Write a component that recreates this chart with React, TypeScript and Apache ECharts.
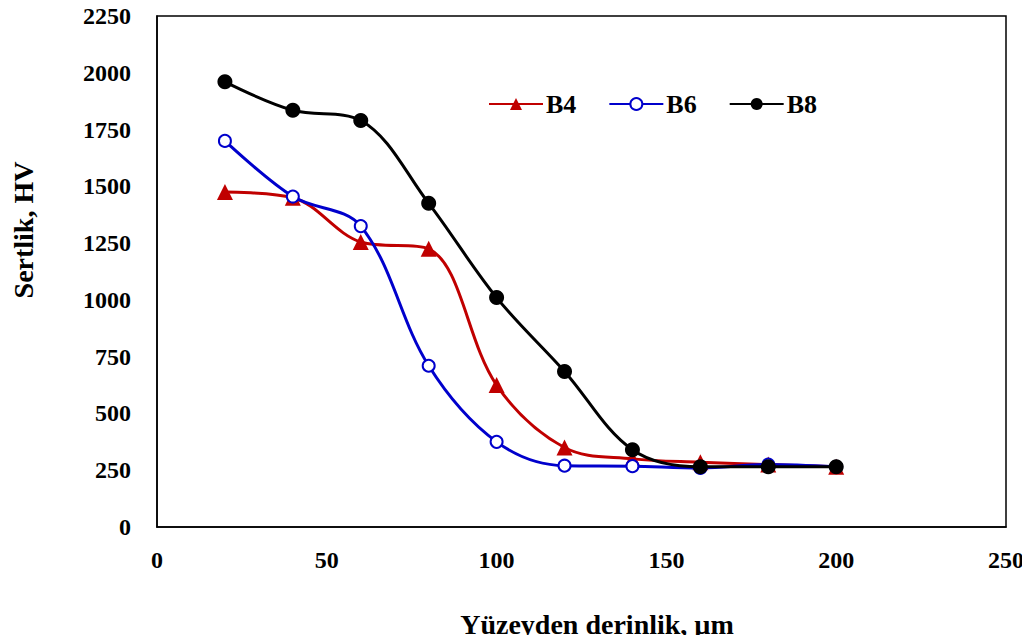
import React, { useEffect, useRef } from "react";
import * as echarts from "echarts";

const depths = [20, 40, 60, 80, 100, 120, 140, 160, 180, 200];
const b4 = [1475, 1450, 1255, 1225, 625, 350, 300, 285, 275, 265];
const b6 = [1700, 1455, 1325, 710, 375, 270, 268, 260, 275, 265];
const b8 = [1960, 1835, 1790, 1425, 1010, 685, 340, 265, 265, 265];
const xTicks = [0, 50, 100, 150, 200, 250];
const yTicks = [0, 250, 500, 750, 1000, 1250, 1500, 1750, 2000, 2250];

const FONT = "'Liberation Serif', 'Times New Roman', serif";

export default function App() {
  const ref = useRef<HTMLDivElement>(null);
  useEffect(() => {
    if (!ref.current) return;
    const chart = echarts.init(ref.current, undefined, { renderer: "svg" });
    const mk = (vals: number[]) => depths.map((d, i) => [d, vals[i]]);
    chart.setOption({
      animation: false,
      backgroundColor: "#fff",
      grid: {
        left: 157,
        top: 16,
        right: 24,
        bottom: 116,
        show: true,
        borderColor: "#000",
        borderWidth: 1.5,
      },
      legend: {
        left: 483,
        top: 86,
        itemWidth: 54,
        itemHeight: 15,
        itemGap: 32,
        textStyle: { fontFamily: FONT, fontWeight: "bold", fontSize: 26, color: "#000", padding: [0, 0, 0, -2] },
        data: ["B4", "B6", "B8"],
      },
      xAxis: {
        type: "value",
        min: 0,
        max: 250,
        interval: 50,
        axisLine: { show: true, lineStyle: { color: "#000", width: 1.5 } },
        axisTick: { show: false },
        splitLine: { show: false },
        axisLabel: {
          margin: 21,
          fontFamily: FONT,
          fontWeight: "bold",
          fontSize: 24,
          color: "#000",
          formatter: (v: number) => (xTicks.includes(v) ? String(v) : ""),
        },
      },
      yAxis: {
        type: "value",
        min: 0,
        max: 2250,
        interval: 250,
        axisLine: { show: true, lineStyle: { color: "#000", width: 1.5 } },
        axisTick: { show: false },
        splitLine: { show: false },
        axisLabel: {
          margin: 26,
          fontFamily: FONT,
          fontWeight: "bold",
          fontSize: 24,
          color: "#000",
          formatter: (v: number) => (yTicks.includes(v) ? String(v) : ""),
        },
      },
      graphic: [
        {
          type: "text",
          x: 597,
          y: 624,
          style: {
            text: "Yüzeyden derinlik, µm",
            fontFamily: FONT,
            fontWeight: "bold",
            fontSize: 28,
            fill: "#000",
            align: "center",
            verticalAlign: "middle",
          },
        },
        {
          type: "text",
          x: 23,
          y: 230,
          rotation: Math.PI / 2,
          style: {
            text: "Sertlik, HV",
            fontFamily: FONT,
            fontWeight: "bold",
            fontSize: 28,
            fill: "#000",
            align: "center",
            verticalAlign: "middle",
          },
        },
      ],
      series: [
        {
          name: "B4",
          type: "line",
          smooth: 0.35,
          data: mk(b4),
          symbol: "triangle",
          symbolSize: 16,
          lineStyle: { color: "#C00000", width: 3 },
          itemStyle: { color: "#C00000" },
          z: 2,
        },
        {
          name: "B6",
          type: "line",
          smooth: 0.35,
          data: mk(b6),
          symbol: "emptyCircle",
          symbolSize: 12,
          lineStyle: { color: "#0000CC", width: 3 },
          itemStyle: { color: "#0000CC", borderColor: "#0000CC", borderWidth: 2 },
          z: 3,
        },
        {
          name: "B8",
          type: "line",
          smooth: 0.35,
          data: mk(b8),
          symbol: "circle",
          symbolSize: 15,
          lineStyle: { color: "#000", width: 3 },
          itemStyle: { color: "#000" },
          z: 4,
        },
      ],
    });
    return () => chart.dispose();
  }, []);
  return <div ref={ref} style={{ width: 1030, height: 643, margin: -8 }} />;
}
